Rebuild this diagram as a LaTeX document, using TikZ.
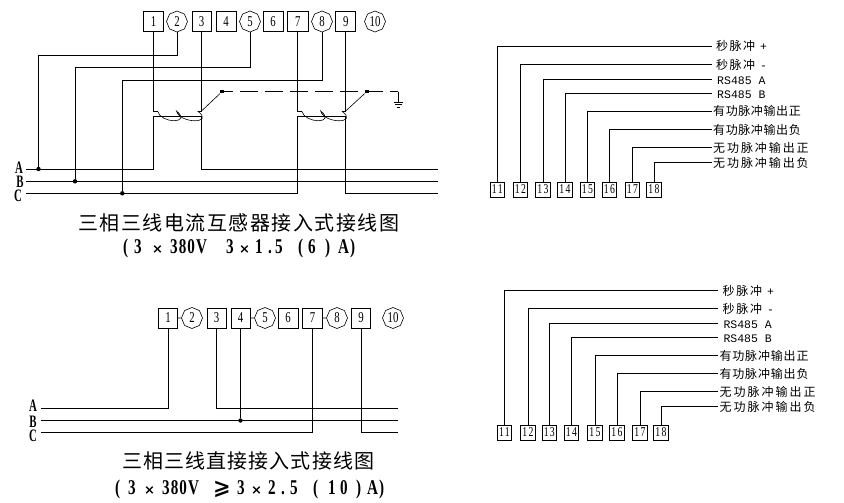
\documentclass[tikz,border=0pt]{standalone}
\usepackage{fontspec}
\usetikzlibrary{shapes.geometric}
\setmainfont{Liberation Serif}
\newfontfamily\cjk{Noto Sans CJK SC}
\newfontfamily\digs[FakeStretch=0.72]{Liberation Serif}
\newfontfamily\ttlf[FakeStretch=0.72]{Liberation Serif Bold}
\newfontfamily\phf[FakeStretch=0.62]{Liberation Serif Bold}
\newfontfamily\monof{Liberation Mono}
\newfontfamily\symf{DejaVu Sans Bold}
\tikzset{
  wire/.style={line width=0.9pt,line join=miter},
  thin wire/.style={line width=0.6pt},
  tbox/.style={draw,line width=0.8pt,inner sep=0pt,minimum width=#1,minimum height=19.5pt,font=\digs\fontsize{15}{15}\selectfont},
  tbox/.default=20pt,
  toct/.style={draw,line width=0.6pt,regular polygon,regular polygon sides=8,shape border rotate=22.5,inner sep=0pt,minimum size=21pt,font=\digs\fontsize{15}{15}\selectfont},
  sbox/.style={draw,line width=0.8pt,inner sep=0pt,minimum width=14.5pt,minimum height=15pt,font=\digs\fontsize{13.5}{13.5}\selectfont\addfontfeatures{LetterSpace=10}},
  lab/.style={anchor=west,inner ysep=0pt,inner xsep=#1,text height=11.5pt,text depth=1.5pt},
  lab/.default=3pt,
  phase/.style={inner sep=0pt,font=\phf\fontsize{17.5}{17.5}\selectfont},
  dotm/.style={fill=black,inner sep=0pt,minimum size=3.6pt},
  dotc/.style={circle,fill=black,inner sep=0pt,minimum size=4.4pt},
  title/.style={inner sep=0pt,anchor=west},
}
\newcommand{\ctxt}[3]{{\cjk\fontsize{#1}{#1}\selectfont\addfontfeatures{LetterSpace=#2}#3}}
\newcommand{\mtxt}[1]{{\monof\fontsize{11.5}{11.5}\selectfont #1}}
\newcommand{\placed}[2]{\rlap{\hspace*{#1pt}#2}}
\newcommand{\tms}{{\symf\fontsize{13}{13}\selectfont ×}}
\begin{document}
\begin{tikzpicture}[x=1pt,y=-1pt]
\useasboundingbox (0,0) rectangle (844,503);
% ---------- top-left terminals
\node[tbox] (t1) at (153.5,21.5) {1};
\node[toct] (t2) at (177,21.5) {2};
\node[tbox=19pt] (t3) at (201.5,21.5) {3};
\node[tbox] (t4) at (226,21.5) {4};
\node[toct] (t5) at (250,21.5) {5};
\node[tbox] (t6) at (273,21.5) {6};
\node[tbox=21pt] (t7) at (297.7,21.5) {7};
\node[toct] (t8) at (322,21.5) {8};
\node[tbox] (t9) at (345.7,21.5) {9};
\node[toct] (t10) at (375,21.5) {10};
% phase labels
\node[phase] (pa) at (19,167.5) {A};
\node[phase] (pb) at (20,182) {B};
\node[phase] (pc) at (18,195.5) {C};
\node[dotc] (da) at (38.5,169) {};
\node[dotc] (db) at (75,181.3) {};
\node[dotc] (dc) at (122.3,193.3) {};
\coordinate (al) at (26,169);
\coordinate (bl) at (26,181.3);
\coordinate (cl) at (26,193.3);
\coordinate (ar) at (438,169);
\coordinate (br) at (438,181.3);
\coordinate (cr) at (438,193.3);
% coils
\coordinate (c1t) at (153.5,111);
\coordinate (c1b) at (153.5,116.5);
\coordinate (c3t) at (201.5,111);
\coordinate (c3b) at (201.5,116.5);
\coordinate (c7t) at (297.7,111);
\coordinate (c7b) at (297.7,116.5);
\coordinate (c9t) at (345.7,111);
\coordinate (c9b) at (345.7,116.5);
\node[dotm] (s1) at (222,91.7) {};
\node[dotm] (s2) at (366.7,91.7) {};
\coordinate (g0) at (398.3,91.7);
\coordinate (g1) at (398.3,102);
% wires
\draw[wire] (al) -- (c1b |- al) -- (c1b) -- (c3b) -- (c3b |- ar) -- (ar);
\draw[wire] (bl) -- (br);
\draw[wire] (cl) -- (c7b |- cl) -- (c7b) -- (c9b) -- (c9b |- cr) -- (cr);
\draw[wire] (t1.south) -- (c1t) -- ++(4,0);
\draw[wire] (t3.south) -- (c3t) -- ++(-4,0);
\draw[wire] (t7.south) -- (c7t) -- ++(4,0);
\draw[wire] (t9.south) -- (c9t) -- ++(-4,0);
\foreach \a in {c1t,c7t}{
  \draw[thin wire] (\a) ++(4,0) .. controls +(3,13) and +(16,13) .. ++(19,0)
     .. controls +(3,13) and +(18,13) .. ++(21,0);
}
\draw[thin wire] (c3t) -- (s1);
\draw[thin wire] (c9t) -- (s2);
\draw[wire] (t2.south) -- (t2.south |- 0,55) -- (da |- 0,55) -- (da);
\draw[wire] (t5.south) -- (t5.south |- 0,67) -- (db |- 0,67) -- (db);
\draw[wire] (t8.south) -- (t8.south |- 0,80) -- (dc |- 0,80) -- (dc);
\draw[thin wire,dash pattern=on 18pt off 7pt,dash phase=9pt] (s1) -- (g0);
\draw[thin wire] (g0) -- (g1);
\draw[thin wire] (393.5,102) -- (403.2,102) (395,104.5) -- (401.7,104.5) (396.6,107) -- (400,107);
% captions
\node[title] (cap1) at (78,223) {\ctxt{20}{7.5}{三相三线电流互感器接入式接线图}};
\node[title] (cap2) at (123,248) {\ttlf\fontsize{21}{21}\selectfont\addfontfeatures{LetterSpace=5}\makebox[233pt][l]{\placed{0}{(}\placed{11}{3}\placed{29}{\tms}\placed{47}{380V}\placed{103}{3}\placed{116}{\tms}\placed{132}{1}\placed{145}{.}\placed{152}{5}\placed{175}{(}\placed{185}{6}\placed{202}{)}\placed{215}{A)}}};
% ---------- bottom-left
\node[tbox=19pt,minimum height=20pt] (b1) at (168,318) {1};
\node[toct] (b2) at (192,318) {2};
\node[tbox=19pt,minimum height=20pt] (b3) at (216.5,318) {3};
\node[tbox=19pt,minimum height=20pt] (b4) at (240.5,318) {4};
\node[toct] (b5) at (265,318) {5};
\node[tbox,minimum height=20pt] (b6) at (288,318) {6};
\node[tbox,minimum height=20pt] (b7) at (312.5,318) {7};
\node[toct] (b8) at (337,318) {8};
\node[tbox=19pt,minimum height=20pt] (b9) at (361,318) {9};
\node[toct] (b10) at (393,318) {10};
\draw[thin wire] (b1) -- (b2);
\draw[thin wire] (b4) -- (b5);
\draw[thin wire] (b7) -- (b8);
\node[phase] (qa) at (33,406) {A};
\node[phase] (qb) at (33,421.6) {B};
\node[phase] (qc) at (33,436) {C};
\node[dotc] (qd) at (240.5,420.5) {};
\coordinate (qal) at (41,408.3);
\coordinate (qbl) at (41,420.5);
\coordinate (qcl) at (41,432.3);
\coordinate (qar) at (398,408.3);
\coordinate (qbr) at (398,420.5);
\coordinate (qcr) at (398,432.3);
\draw[wire] (qal) -- (b1.south |- qal) -- (b1.south);
\draw[wire] (b3.south) -- (b3.south |- qar) -- (qar);
\draw[wire] (qbl) -- (qbr);
\draw[wire] (b4.south) -- (qd);
\draw[wire] (qcl) -- (b7.south |- qcl) -- (b7.south);
\draw[wire] (b9.south) -- (b9.south |- qcr) -- (qcr);
\node[title] (cap3) at (122,461) {\ctxt{20}{5.5}{三相三线直接接入式接线图}};
\node[title] (cap4) at (115,489) {\ttlf\fontsize{21}{21}\selectfont\addfontfeatures{LetterSpace=5}\makebox[267pt][l]{\placed{0}{(}\placed{13}{3}\placed{29}{\tms}\placed{47}{380V}\placed{98}{{\symf\fontsize{21}{21}\selectfont ⩾}}\placed{122}{3}\placed{136}{\tms}\placed{153}{2}\placed{166}{.}\placed{175}{5}\placed{198}{(}\placed{213}{1}\placed{225}{0}\placed{241}{)}\placed{252}{A)}}};
% ---------- top-right
\foreach \n/\x in {11/497.3,12/520.5,13/543,14/565,15/587.5,16/609.5,17/632.5,18/654}{
  \node[sbox] (r\n) at (\x,189.5) {\n};
}
\node[lab=4pt] (l11) at (712,46) {\ctxt{12}{12}{秒脉冲}\ \ \mtxt{+}};
\node[lab=4pt] (l12) at (712,64.3) {\ctxt{12}{12}{秒脉冲}\ \ \mtxt{-}};
\node[lab=5pt] (l13) at (712,79.7) {\mtxt{RS485 A}};
\node[lab=5pt] (l14) at (712,93.7) {\mtxt{RS485 B}};
\node[lab=1pt] (l15) at (712,111) {\ctxt{12}{5}{有功脉冲输出正}};
\node[lab=1pt] (l16) at (712,129.3) {\ctxt{12}{5}{有功脉冲输出负}};
\node[lab=1pt] (l17) at (712,147) {\ctxt{12}{16}{无功脉冲输出正}};
\node[lab=1pt] (l18) at (712,162.7) {\ctxt{12}{16}{无功脉冲输出负}};
\foreach \n in {11,...,18}{ \draw[wire] (r\n.north) |- (l\n.west); }
% ---------- bottom-right
\foreach \n/\x in {11/504.5,12/528,13/549.3,14/571.5,15/595,16/617,17/640,18/661}{
  \node[sbox] (u\n) at (\x,432.5) {\n};
}
\node[lab=4pt] (m11) at (718.3,290.3) {\ctxt{12}{15}{秒脉冲}\ \ \mtxt{+}};
\node[lab=4pt] (m12) at (718.3,308.3) {\ctxt{12}{15}{秒脉冲}\ \ \mtxt{-}};
\node[lab=5pt] (m13) at (718.3,323.3) {\mtxt{RS485 A}};
\node[lab=5pt] (m14) at (718.3,337.3) {\mtxt{RS485 B}};
\node[lab=1pt] (m15) at (718.3,355.3) {\ctxt{12}{7}{有功脉冲输出正}};
\node[lab=1pt] (m16) at (718.3,373.3) {\ctxt{12}{7}{有功脉冲输出负}};
\node[lab=1pt] (m17) at (718.3,391.7) {\ctxt{12}{17}{无功脉冲输出正}};
\node[lab=1pt] (m18) at (718.3,406.3) {\ctxt{12}{17}{无功脉冲输出负}};
\foreach \n in {11,...,18}{ \draw[wire] (u\n.north) |- (m\n.west); }
\end{tikzpicture}
\end{document}
